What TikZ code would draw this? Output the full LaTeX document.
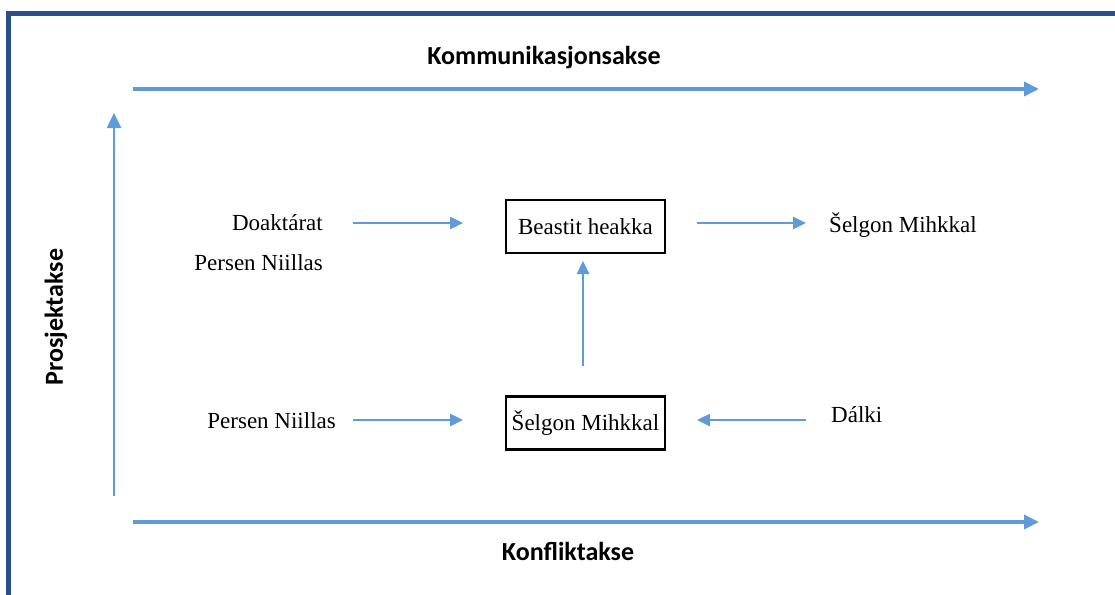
\documentclass[tikz,border=0pt]{standalone}
\usepackage{fontspec}
\setmainfont{Liberation Serif}
\newfontfamily\axisfont{Carlito}
\usetikzlibrary{arrows.meta}
\definecolor{framecol}{HTML}{2B5089}
\definecolor{arrowcol}{HTML}{5F9BD8}
\tikzset{
  axisarrow/.style={draw=arrowcol, line width=3.5pt, -{Triangle[length=15pt,width=14pt]}},
  flowarrow/.style={draw=arrowcol, line width=2.5pt, -{Triangle[length=13pt,width=12pt]}},
  axislabel/.style={font=\axisfont\bfseries\fontsize{26}{28}\selectfont, text=black, inner sep=0pt},
  plain/.style={font=\fontsize{23}{25}\selectfont, text=black, inner sep=0pt},
  stagebox/.style={draw=black, line width=2.2pt, minimum width=159pt, minimum height=53pt,
    font=\fontsize{23}{25}\selectfont, inner sep=0pt},
}
\begin{document}
\begin{tikzpicture}[x=1pt, y=-1pt]
\useasboundingbox (0,0) rectangle (1115,594);
\fill[white] (0,0) rectangle (1115,594);
% outer frame, running off the right and bottom edges
\draw[framecol, line width=5pt] (8.5,600) -- (8.5,13.5) -- (1120,13.5);

% axes
\coordinate (ktop0) at (133,89);
\coordinate (ktop1) at (1039,89);
\coordinate (kbot0) at (133,522);
\coordinate (kbot1) at (1039,522);
\coordinate (pv0) at (114,496);
\coordinate (pv1) at (114,113);
\draw[axisarrow] (ktop0) -- (ktop1);
\draw[axisarrow] (kbot0) -- (kbot1);
\draw[axisarrow, line width=2.5pt] (pv0) -- (pv1);
\node[axislabel] (kommlab) at (544,58) {Kommunikasjonsakse};
\node[axislabel] (konflab) at (568,551) {Konfliktakse};
\node[axislabel, rotate=90] (prosjlab) at (56,317) {Prosjektakse};

% stage boxes
\node[stagebox] (beast) at (585.5,226.5) {Beastit heakka};
\node[stagebox] (selgon) at (585.5,423) {Šelgon Mihkkal};

% actants
\node[plain, anchor=east] (doak) at (323,223) {Doaktárat};
\node[plain, anchor=east] (persen1) at (323,263) {Persen Niillas};
\node[plain, anchor=west] (selgonr) at (829,225) {Šelgon Mihkkal};
\node[plain, anchor=east] (persen2) at (336,421) {Persen Niillas};
\node[plain, anchor=west] (dalki) at (831,415) {Dálki};

% connectors
\coordinate (a1s) at (353,223);
\coordinate (a1e) at (463,223);
\draw[flowarrow] (a1s) -- (a1e);
\coordinate (a2s) at (697,223);
\coordinate (a2e) at (806,223);
\draw[flowarrow] (a2s) -- (a2e);
\coordinate (a3s) at (353,420);
\coordinate (a3e) at (463,420);
\draw[flowarrow] (a3s) -- (a3e);
\coordinate (a4s) at (806,420);
\coordinate (a4e) at (697,420);
\draw[flowarrow] (a4s) -- (a4e);
\coordinate (a5s) at (583,366);
\coordinate (a5e) at (583,261);
\draw[flowarrow] (a5s) -- (a5e);
\end{tikzpicture}
\end{document}
